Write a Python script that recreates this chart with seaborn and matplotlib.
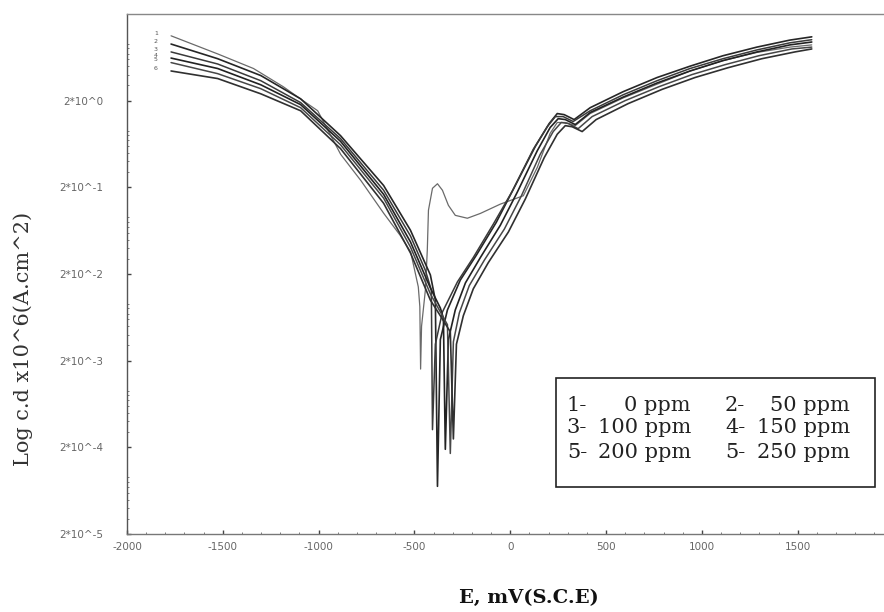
import numpy as np
import pandas as pd
import matplotlib
matplotlib.use('Agg')
import matplotlib.pyplot as plt
import seaborn as sns
from matplotlib.patches import Rectangle
from matplotlib.ticker import FixedLocator, AutoMinorLocator, LogLocator, NullFormatter


# potential (mV vs SCE) and current density (x10^-6 A/cm^2)
curve_names = ['1', '2', '3', '4', '5', '6']

E1 = [-1770, -1525, -1340, -1185, -1095, -1005, -885, -780, -660, -575, -520, -480, -472, -468,
      -463, -443, -433, -427, -406, -380, -354, -323, -287, -224, -156, -52, 68, 141, 208, 245,
      287, 339, 417, 589, 766, 938, 1110, 1287, 1459, 1573]
I1 = [11.2, 6.9, 4.7, 2.9, 2.1, 1.53, 0.48, 0.24, 0.100, 0.056, 0.036, 0.0142, 0.0084, 0.0016,
      0.0050, 0.0131, 0.038, 0.109, 0.195, 0.22, 0.185, 0.124, 0.095, 0.088, 0.100, 0.128, 0.16,
      0.34, 0.84, 1.12, 1.12, 1.03, 1.42, 2.15, 3.1, 4.4, 5.8, 7.2, 8.3, 8.8]

E2 = [-1770, -1527, -1302, -1094, -886, -661, -521, -417, -391, -380, -365, -328, -261, -177,
      -73, 21, 130, 203, 245, 281, 333, 417, 589, 766, 938, 1110, 1287, 1459, 1573]
I2 = [9.0, 6.1, 3.9, 2.1, 0.79, 0.21, 0.064, 0.0195, 0.0100, 0.000071, 0.0035, 0.0077, 0.017,
      0.033, 0.079, 0.20, 0.59, 1.09, 1.42, 1.38, 1.21, 1.66, 2.54, 3.7, 5.0, 6.6, 8.3, 10.0, 10.9]

E3 = [-1770, -1527, -1302, -1094, -886, -661, -521, -443, -412, -406, -391, -354, -276, -193,
      -89, 10, 120, 193, 235, 276, 328, 417, 589, 766, 938, 1110, 1287, 1459, 1573]
I3 = [7.3, 5.3, 3.4, 1.90, 0.73, 0.185, 0.055, 0.022, 0.0131, 0.00032, 0.0031, 0.0073, 0.0162,
      0.031, 0.075, 0.18, 0.55, 1.0, 1.31, 1.31, 1.15, 1.53, 2.34, 3.4, 4.7, 6.1, 7.7, 9.3, 10.1]

E4 = [-1770, -1527, -1302, -1094, -886, -661, -521, -417, -365, -349, -339, -323, -287, -234,
      -156, -52, 36, 141, 208, 250, 287, 339, 417, 589, 766, 938, 1110, 1287, 1459, 1573]
I4 = [6.2, 4.7, 3.05, 1.80, 0.68, 0.166, 0.047, 0.0138, 0.0081, 0.0062, 0.00019, 0.0035, 0.0077,
      0.0158, 0.031, 0.073, 0.175, 0.53, 0.98, 1.24, 1.21, 1.06, 1.46, 2.2, 3.2, 4.4, 5.8, 7.3,
      8.8, 9.5]

E5 = [-1770, -1527, -1302, -1094, -886, -661, -521, -417, -365, -328, -313, -297, -266, -214,
      -135, -31, 57, 156, 224, 266, 302, 354, 427, 599, 776, 948, 1120, 1297, 1469, 1573]
I5 = [5.5, 4.1, 2.75, 1.66, 0.62, 0.150, 0.041, 0.0118, 0.0073, 0.0052, 0.00017, 0.0033, 0.0071,
      0.0147, 0.029, 0.066, 0.158, 0.48, 0.88, 1.12, 1.09, 0.95, 1.31, 2.0, 2.9, 4.0, 5.2, 6.6,
      7.9, 8.3]

E6 = [-1770, -1527, -1302, -1094, -886, -661, -521, -417, -365, -313, -297, -281, -245, -193,
      -115, -10, 78, 177, 245, 287, 323, 375, 448, 615, 792, 964, 1136, 1313, 1485, 1573]
I6 = [4.4, 3.6, 2.40, 1.53, 0.56, 0.131, 0.035, 0.0100, 0.0066, 0.0043, 0.00025, 0.0031, 0.0066,
      0.0135, 0.027, 0.061, 0.146, 0.44, 0.82, 1.03, 1.0, 0.88, 1.21, 1.85, 2.7, 3.7, 4.8, 6.1,
      7.3, 7.9]

potentials = [E1, E2, E3, E4, E5, E6]
currents = [I1, I2, I3, I4, I5, I6]

y_ticks = [2e-5, 2e-4, 2e-3, 2e-2, 2e-1, 2e0]
y_ticklabels = ['2*10^-5', '2*10^-4', '2*10^-3', '2*10^-2', '2*10^-1', '2*10^0']
x_ticks = [-2000, -1500, -1000, -500, 0, 500, 1000, 1500]

legend_left = [('1-', '0 ppm'), ('3-', '100 ppm'), ('5-', '200 ppm')]
legend_right = [('2-', '50 ppm'), ('4-', '150 ppm'), ('5-', '250 ppm')]

line_colors = ['#6a6a6a', '#262626', '#3a3a3a', '#222222', '#474747', '#303030']
line_widths = [0.9, 1.2, 1.1, 1.2, 1.1, 1.2]

sns.set_style('white')
plt.rcParams['axes.unicode_minus'] = False

frames = []
for name, e, i in zip(curve_names, potentials, currents):
    frames.append(pd.DataFrame({'E': e, 'I': i, 'curve': name}))
df = pd.concat(frames, ignore_index=True)

fig = plt.figure(figsize=(8.84, 6.12), dpi=100)
ax = fig.add_axes([127 / 884, 1 - 534 / 612, 757 / 884, 520 / 612])

sns.lineplot(data=df, x='E', y='I', hue='curve', palette=dict(zip(curve_names, line_colors)),
             sort=False, estimator=None, legend=False, ax=ax)
for line, lw in zip(ax.lines, line_widths):
    line.set_linewidth(lw)

# small curve numbers at the start of each curve
for name, e, i in zip(curve_names, potentials, currents):
    ax.annotate(name, (e[0], i[0]), xytext=(-11, 2), textcoords='offset points',
                fontsize=4.5, color='#555555', ha='center', va='center')

ax.set_yscale('log')
ax.set_xlim(-2000, 1950)
ax.set_ylim(2e-5, 2e1)

ax.yaxis.set_major_locator(FixedLocator(y_ticks))
ax.set_yticklabels(y_ticklabels)
ax.yaxis.set_minor_locator(LogLocator(base=10, subs=np.arange(2, 10)))
ax.yaxis.set_minor_formatter(NullFormatter())
ax.set_xticks(x_ticks)
ax.xaxis.set_minor_locator(AutoMinorLocator(5))

ax.tick_params(axis='y', which='major', direction='in', length=3, width=1, pad=17,
               labelsize=7.5, labelcolor='#666666', color='#444444', left=True)
ax.tick_params(axis='x', which='major', direction='in', length=3, width=1, pad=6,
               labelsize=7.5, labelcolor='#666666', color='#444444', bottom=True)
ax.tick_params(which='minor', direction='in', length=1.5, width=0.6, color='#666666',
               left=True, bottom=True)

ax.set_xlabel('')
ax.set_ylabel('')

for side in ['left', 'bottom', 'top']:
    ax.spines[side].set_visible(True)
    ax.spines[side].set_linewidth(1.0)
ax.spines['left'].set_color('#555555')
ax.spines['bottom'].set_color('#777777')
ax.spines['top'].set_color('#888888')
ax.spines['right'].set_visible(False)

# legend box
ax.add_patch(Rectangle((0.567, 0.090), 0.421, 0.210, transform=ax.transAxes,
                       fill=False, lw=1.2, ec='#222222'))
row_y = [0.248, 0.204, 0.156]
for (pre, val), y in zip(legend_left, row_y):
    ax.text(0.581, y, pre, transform=ax.transAxes, fontsize=15, family='DejaVu Serif',
            color='#222222', va='center', ha='left')
    ax.text(0.745, y, val, transform=ax.transAxes, fontsize=15, family='DejaVu Serif',
            color='#222222', va='center', ha='right')
for (pre, val), y in zip(legend_right, row_y):
    ax.text(0.790, y, pre, transform=ax.transAxes, fontsize=15, family='DejaVu Serif',
            color='#222222', va='center', ha='left')
    ax.text(0.955, y, val, transform=ax.transAxes, fontsize=15, family='DejaVu Serif',
            color='#222222', va='center', ha='right')

fig.text(23 / 884, 1 - 339 / 612, 'Log c.d x10^6(A.cm^2)', rotation=90, fontsize=15,
         family='DejaVu Serif', color='#333333', ha='center', va='center')
fig.text(529 / 884, 1 - 598 / 612, 'E, mV(S.C.E)', fontsize=14, fontweight='bold',
         family='DejaVu Serif', color='#111111', ha='center', va='center')

fig.savefig('out.png', dpi=100)
